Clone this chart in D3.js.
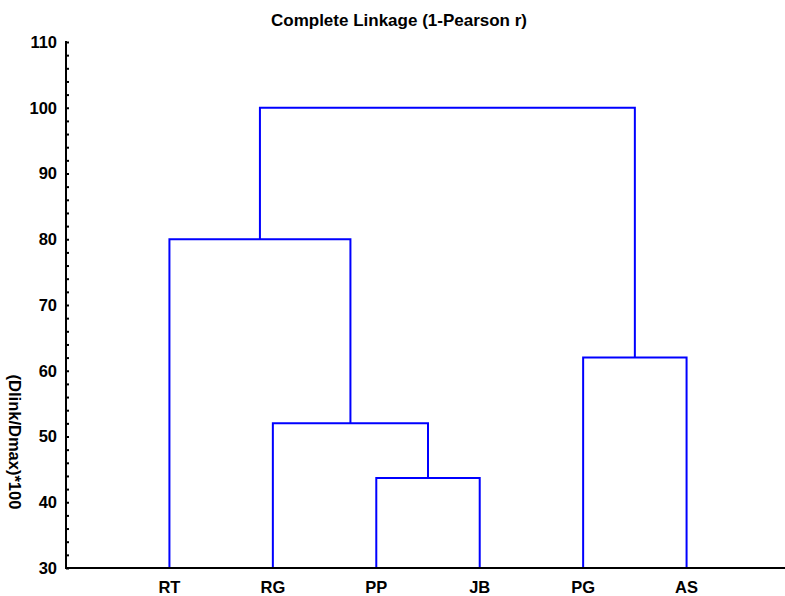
<!DOCTYPE html>
<html>
<head>
<meta charset="utf-8">
<script src="https://cdn.jsdelivr.net/npm/d3@7"></script>
<style>
  html, body { margin: 0; padding: 0; background: #fff; }
  text { font-family: "Liberation Sans", Arial, sans-serif; font-weight: bold; fill: #000; }
</style>
</head>
<body>
<svg id="chart" width="785" height="596"></svg>
<script>
// Leaves in dendrogram order
const leaves = ["RT", "RG", "PP", "JB", "PG", "AS"];
// Merge steps: [left node index, right node index, linkage distance]
// Indices 0..5 are leaves; each merge creates node 6, 7, ...
const merges = [
  [2, 3, 43.7],
  [1, 6, 52],
  [4, 5, 62],
  [0, 7, 80],
  [8, 9, 100]
];
const yTicks = [30, 40, 50, 60, 70, 80, 90, 100, 110];
const titleText = "Complete Linkage (1-Pearson r)";
const yLabel = "(Dlink/Dmax)*100";

(function () {
  const svg = d3.select("#chart");
  const mLeft = 66, mRight = 790, mTop = 42, mBottom = 568;

  const x = d3.scalePoint().domain(leaves).range([mLeft, mRight]).padding(1);
  const y = d3.scaleLinear().domain([30, 110]).range([mBottom, mTop]);

  // Node positions: leaves on the baseline, merges at the mean x of their children
  const nodes = leaves.map(name => ({ x: x(name), h: 30 }));
  merges.forEach(([a, b, h]) => {
    nodes.push({ x: (nodes[a].x + nodes[b].x) / 2, h });
  });

  const links = svg.append("g")
    .attr("fill", "none")
    .attr("stroke", "#0000ff")
    .attr("stroke-width", 2);

  merges.forEach(([a, b, h]) => {
    const ya = y(nodes[a].h), yb = y(nodes[b].h), yh = y(h);
    links.append("path")
      .attr("d", `M${nodes[a].x},${ya}V${yh}H${nodes[b].x}V${yb}`);
  });

  // Y axis with minor ticks pointing inward
  const yAxis = svg.append("g").attr("transform", `translate(${mLeft},0)`);
  yAxis.call(d3.axisRight(y).tickValues(d3.range(30, 111, 2)).tickSize(3).tickFormat(""))
    .call(g => g.select(".domain").remove())
    .call(g => g.selectAll("line").attr("stroke", "#000").attr("stroke-width", 2));
  yAxis.selectAll(".major").data(yTicks).enter().append("text")
    .attr("class", "major")
    .attr("x", -9)
    .attr("y", d => y(d))
    .attr("dy", "0.36em")
    .attr("text-anchor", "end")
    .style("font-size", "16.5px")
    .text(d => d);
  yAxis.append("line")
    .attr("x1", 0).attr("x2", 0)
    .attr("y1", mTop - 1).attr("y2", mBottom + 1)
    .attr("stroke", "#000").attr("stroke-width", 2);

  // X axis baseline and leaf labels
  const xAxis = svg.append("g").attr("transform", `translate(0,${mBottom})`);
  xAxis.append("line")
    .attr("x1", mLeft - 1).attr("x2", mRight)
    .attr("stroke", "#000").attr("stroke-width", 2);
  xAxis.selectAll("text").data(leaves).enter().append("text")
    .attr("x", d => x(d))
    .attr("y", 25)
    .attr("text-anchor", "middle")
    .style("font-size", "16.5px")
    .text(d => d);

  svg.append("text")
    .attr("x", 399).attr("y", 26)
    .attr("text-anchor", "middle")
    .style("font-size", "17px")
    .text(titleText);

  svg.append("text")
    .attr("transform", "translate(9,442) rotate(90)")
    .attr("text-anchor", "middle")
    .style("font-size", "16.5px")
    .text(yLabel);
})();
</script>
</body>
</html>
